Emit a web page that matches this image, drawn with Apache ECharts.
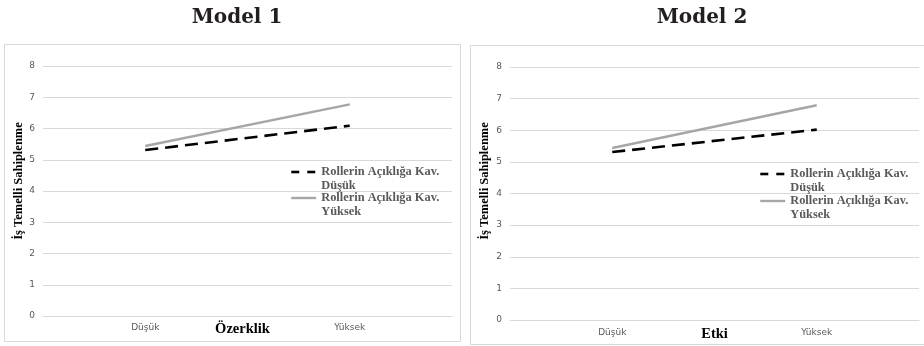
<!DOCTYPE html>
<html>
<head>
<meta charset="utf-8">
<script src="https://cdn.jsdelivr.net/npm/echarts@6/dist/echarts.min.js"></script>
<style>
  html, body { margin: 0; padding: 0; background: #ffffff; }
  #chart { width: 924px; height: 346px; }
</style>
</head>
<body>
<div id="chart"></div>
<script>
// Interaction plots: İş Temelli Sahiplenme by level of the moderator
const categories = ['Düşük', 'Yüksek'];
const yTicks = [0, 1, 2, 3, 4, 5, 6, 7, 8];

const model1Low = [5.31, 6.09];   // Rollerin Açıklığa Kav. Düşük
const model1High = [5.44, 6.77];  // Rollerin Açıklığa Kav. Yüksek
const model2Low = [5.31, 6.02];
const model2High = [5.44, 6.79];

const titles = ['Model 1', 'Model 2'];
const xNames = ['Özerklik', 'Etki'];
const yName = 'İş Temelli Sahiplenme';
const lowName = 'Rollerin Açıklığa Kav.\nDüşük';
const highName = 'Rollerin Açıklığa Kav.\nYüksek';

const SLAB = '"DejaVu Serif", "Liberation Serif", serif';
const SERIF = '"Liberation Serif", "DejaVu Serif", serif';
const SANS = '"DejaVu Sans", "Noto Sans", sans-serif';
const GRID_COLOR = '#d9d9d9';
const LABEL_COLOR = '#595959';

const chart = echarts.init(document.getElementById('chart'), null, { renderer: 'canvas' });

function xAxis(gridIndex, name, margin, nameGap, shift) {
  return {
    type: 'category',
    gridIndex: gridIndex,
    data: categories,
    boundaryGap: true,
    axisLine: { show: true, lineStyle: { color: GRID_COLOR, width: 1 } },
    axisTick: { show: false },
    axisLabel: { color: LABEL_COLOR, fontSize: 9, fontFamily: SANS, margin: margin },
    name: name,
    nameLocation: 'middle',
    nameGap: nameGap,
    nameMoveOverlap: false,
    nameTextStyle: { color: '#000000', fontSize: 14.5, fontWeight: 'bold', fontFamily: SERIF,
      padding: [0, shift, 0, 0] }
  };
}

function yAxis(gridIndex, nameGap, shift) {
  return {
    type: 'value',
    gridIndex: gridIndex,
    min: 0,
    max: 8,
    interval: 1,
    axisLine: { show: false },
    axisTick: { show: false },
    splitLine: { show: true, lineStyle: { color: GRID_COLOR, width: 1 } },
    axisLabel: { color: LABEL_COLOR, fontSize: 9, fontFamily: SANS, margin: 8,
      formatter: function (v) { return yTicks.indexOf(v) >= 0 ? String(v) : ''; } },
    name: yName,
    nameLocation: 'middle',
    nameGap: nameGap,
    nameTextStyle: { color: '#000000', fontSize: 12.5, fontWeight: 'bold', fontFamily: SERIF,
      padding: [0, 0, 0, shift] }
  };
}

function lowSeries(idx, data) {
  return {
    name: lowName, type: 'line', xAxisIndex: idx, yAxisIndex: idx, data: data,
    symbol: 'none', silent: true,
    lineStyle: { color: '#000000', width: 2.6, type: [13, 7] }
  };
}
function highSeries(idx, data) {
  return {
    name: highName, type: 'line', xAxisIndex: idx, yAxisIndex: idx, data: data,
    symbol: 'none', silent: true,
    lineStyle: { color: '#a6a6a6', width: 2.4, type: 'solid' }
  };
}

// A leading blank line keeps the first text line level with the legend stroke
const legendText = {
  color: LABEL_COLOR, fontSize: 12.4, fontWeight: 'bold', fontFamily: SERIF, lineHeight: 14
};
function legend(name, left, top, dashed) {
  return {
    data: [name], left: left, top: top, orient: 'vertical', padding: 0,
    itemWidth: 25, itemHeight: 14, selectedMode: false,
    formatter: function (n) { return '\n' + n; },
    itemStyle: { color: 'rgba(0,0,0,0)', opacity: 0, borderWidth: 0 },
    lineStyle: dashed ? { type: [8, 8], width: 2.6 } : { width: 2.4 },
    textStyle: legendText
  };
}

chart.setOption({
  animation: false,
  backgroundColor: '#ffffff',
  title: [
    { text: titles[0], left: 232, top: 3, textAlign: 'center',
      textStyle: { fontSize: 20, fontWeight: 'bold', fontFamily: SLAB, color: '#231f20' } },
    { text: titles[1], left: 697, top: 3, textAlign: 'center',
      textStyle: { fontSize: 20, fontWeight: 'bold', fontFamily: SLAB, color: '#231f20' } }
  ],
  graphic: [
    { type: 'rect', shape: { x: 4.5, y: 44.5, width: 456, height: 297 },
      style: { fill: null, stroke: GRID_COLOR, lineWidth: 1 }, silent: true },
    { type: 'rect', shape: { x: 470.5, y: 45.5, width: 460, height: 299 },
      style: { fill: null, stroke: GRID_COLOR, lineWidth: 1 }, silent: true }
  ],
  grid: [
    { left: 43, right: 472, top: 66, bottom: 30, outerBoundsMode: 'none', containLabel: false },
    { left: 510, right: 5, top: 67, bottom: 26, outerBoundsMode: 'none', containLabel: false }
  ],
  xAxis: [xAxis(0, xNames[0], 7, 6, 10), xAxis(1, xNames[1], 8, 7, 0)],
  yAxis: [yAxis(0, 18, 20), yAxis(1, 19, 25)],
  legend: [
    legend(lowName, 290, 151, true),
    legend(highName, 290, 177, false),
    legend(lowName, 759, 153, true),
    legend(highName, 759, 180, false)
  ],
  series: [
    lowSeries(0, model1Low), highSeries(0, model1High),
    lowSeries(1, model2Low), highSeries(1, model2High)
  ]
});
</script>
</body>
</html>
